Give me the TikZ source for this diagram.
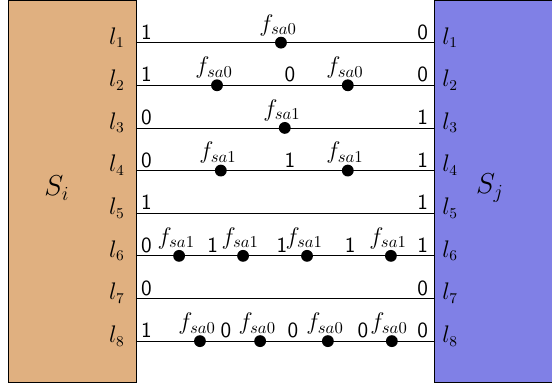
\documentclass[tikz,border=0pt]{standalone}
\usetikzlibrary{positioning}
\definecolor{sicolor}{RGB}{224,176,128}
\definecolor{sjcolor}{RGB}{128,128,230}

\begin{document}
\begin{tikzpicture}[
  font=\fontsize{13.5}{16}\selectfont,
  sysbox/.style={draw, anchor=south west, minimum width=2.7cm, minimum height=8.06cm, inner sep=0pt},
  wire/.style={line width=0.5pt},
  fault/.style={circle, fill=black, inner sep=0pt, minimum size=0.25cm},
  flabel/.style={inner sep=0.2pt, font=\fontsize{14}{16}\selectfont},
  val/.style={font=\fontsize{13}{15}\sffamily, inner sep=0pt}
]
  \useasboundingbox (0,0) rectangle (11.65,8.12);

  % Subsystems
  \node[sysbox, fill=sicolor] (si) at (0.17,0.04) {};
  \node[sysbox, fill=sjcolor] (sj) at (9.16,0.04) {};
  \node[font=\fontsize{18}{21}\selectfont] (silabel) at (1.2,4.15) {$S_i$};
  \node[font=\fontsize{18}{21}\selectfont] (sjlabel) at (10.34,4.15) {$S_j$};

  % Lines with their end values
  \foreach \k/\a/\b in {1/1/0, 2/1/0, 3/0/1, 4/0/1, 5/1/1, 6/0/1, 7/0/0, 8/1/0} {
    \coordinate (L\k) at (2.87,{7.22-0.9*(\k-1)});
    \coordinate (R\k) at (9.16,{7.22-0.9*(\k-1)});
    \draw[wire] (L\k) -- (R\k);
    \node[anchor=base east, inner sep=0pt] (ll\k) at ([xshift=-0.23cm, yshift=-0.03cm]L\k) {$l_{\k}$};
    \node[anchor=base west, inner sep=0pt] (rl\k) at ([xshift=0.17cm, yshift=-0.03cm]R\k) {$l_{\k}$};
    \node[val, anchor=base west] (la\k) at ([xshift=0.1cm, yshift=0.07cm]L\k) {\a};
    \node[val, anchor=base east] (rb\k) at ([xshift=-0.12cm, yshift=0.07cm]R\k) {\b};
  }

  % Values between the faults
  \foreach \k/\x/\v [count=\n] in {2/6.12/0, 4/6.12/1, 6/4.49/1, 6/5.95/1, 6/7.39/1,
                                   8/4.77/0, 8/6.18/0, 8/7.66/0} {
    \node[val, anchor=base] (mv\n) at (\x,{7.29-0.9*(\k-1)}) {\v};
  }

  % Stuck-at faults
  \foreach \k/\x/\f [count=\n] in {1/5.93/0, 2/4.58/0, 2/7.34/0, 3/6.01/1, 4/4.66/1, 4/7.34/1,
                                   6/3.78/1, 6/5.13/1, 6/6.48/1, 6/8.25/1,
                                   8/4.22/0, 8/5.49/0, 8/6.92/0, 8/8.27/0} {
    \node[fault] (f\n) at (\x,{7.22-0.9*(\k-1)}) {};
    \node[flabel, above=0pt of f\n, xshift=-0.06cm] (fl\n) {$f_{sa\f}$};
  }
\end{tikzpicture}
\end{document}
